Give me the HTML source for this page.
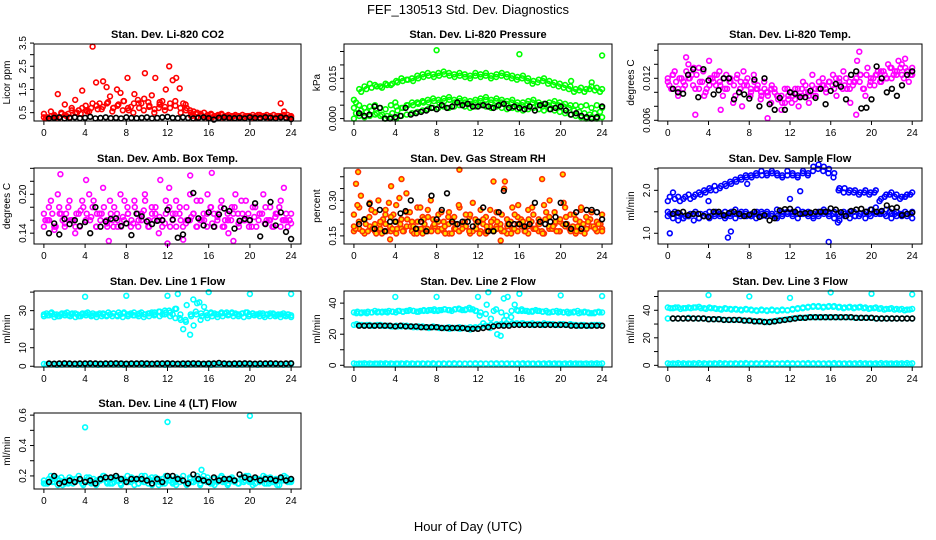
<!DOCTYPE html>
<html><head><meta charset="utf-8"><style>
html,body{margin:0;padding:0;background:#fff;}
svg{display:block;font-family:"Liberation Sans",Arial,sans-serif;}
</style></head><body>
<svg id="chart" width="936" height="540" viewBox="0 0 936 540" xmlns="http://www.w3.org/2000/svg">
<rect x="0" y="0" width="936" height="540" fill="#fff"/>
<text x="468" y="14" text-anchor="middle" font-size="13">FEF_130513  Std. Dev. Diagnostics</text>
<text x="468" y="531" text-anchor="middle" font-size="13">Hour of Day (UTC)</text>
<g id="panels"></g>
</svg>
<script>
const xTicks = [0,4,8,12,16,20,24];

const co2Red = [0.45,0.3,0.55,0.4,1.3,0.5,0.85,0.45,0.7,1.05,0.6,1.45,0.8,0.55,3.35,1.8,0.9,1.85,1.6,1.2,0.7,1.5,1.35,1.0,2.0,0.75,1.3,1.05,0.9,2.2,0.95,1.25,2.0,0.7,1.0,1.5,2.5,1.9,2.0,1.55,0.9,0.7,0.6,0.55,0.5,0.45,0.5,0.4,0.45,0.35,0.4,0.45,0.35,0.4,0.35,0.4,0.35,0.4,0.35,0.35,0.4,0.35,0.4,0.35,0.4,0.35,0.4,0.35,0.9,0.55,0.4,0.35];
const co2RedB = [0.3,0.25,0.35,0.3,0.4,0.3,0.5,0.45,0.6,0.7,0.8,0.65,0.9,0.55,0.8,0.6,0.7,0.5,0.9,0.6,0.75,0.5,0.85,0.6,0.7,0.8,0.5,0.6,0.35,0.3,0.35,0.3,0.3,0.35,0.3,0.3,0.35,0.3,0.3,0.35,0.3,0.3,0.35,0.3,0.3,0.35,0.3,0.3];
const co2RedC = [0.25,0.35,0.3,0.45,0.35,0.6,0.5,0.7,0.55,0.9,0.65,0.75,0.95,0.7,0.85,1.0,0.6,0.9,0.7,1.1,0.8,0.65,0.95,0.75,0.9,1.0,0.7,0.85,0.5,0.45,0.4,0.35,0.4,0.35,0.4,0.35,0.3,0.35,0.4,0.35,0.3,0.4,0.35,0.3,0.4,0.35,0.4,0.3];
const co2Blk = [0.25,0.28,0.3,0.25,0.27,0.3,0.26,0.28,0.32,0.25,0.27,0.3,0.26,0.28,0.25,0.3,0.27,0.26,0.28,0.3,0.25,0.27,0.3,0.32,0.28,0.26,0.3,0.27,0.25,0.28,0.3,0.26,0.2,0.28,0.3,0.27,0.26,0.28,0.25,0.3,0.27,0.26,0.3,0.28,0.25,0.3,0.27,0.22];

const presUp = [0.007,0.011,0.012,0.013,0.0125,0.012,0.013,0.0125,0.014,0.015,0.0145,0.015,0.016,0.0165,0.017,0.0165,0.017,0.0175,0.017,0.0165,0.017,0.0165,0.016,0.017,0.0165,0.017,0.016,0.0165,0.017,0.0165,0.016,0.0155,0.016,0.015,0.014,0.0145,0.015,0.014,0.0135,0.013,0.0125,0.012,0.011,0.0115,0.011,0.012,0.0115,0.011];
const presUp2 = [0.006,0.01,0.011,0.0115,0.012,0.0115,0.0125,0.013,0.0135,0.014,0.0145,0.014,0.015,0.0155,0.016,0.0155,0.016,0.0165,0.016,0.0155,0.016,0.0155,0.015,0.016,0.0155,0.016,0.015,0.0155,0.016,0.0155,0.015,0.0145,0.015,0.014,0.013,0.0135,0.014,0.013,0.0125,0.012,0.0115,0.011,0.01,0.0105,0.01,0.011,0.0105,0.01];
const presLo = [0.004,0.005,0.004,0.0045,0.005,0.004,0.0035,0.005,0.0045,0.004,0.005,0.006,0.006,0.0065,0.007,0.0075,0.007,0.0075,0.008,0.007,0.0075,0.007,0.0065,0.007,0.0075,0.008,0.007,0.0075,0.007,0.0065,0.007,0.006,0.006,0.0065,0.007,0.006,0.0055,0.006,0.0065,0.006,0.0055,0.005,0.005,0.0045,0.005,0.004,0.005,0.004];
const presLo2 = [0.002,0.003,0.0025,0.003,0.002,0.0015,0.001,0.002,0.003,0.004,0.005,0.005,0.0055,0.006,0.006,0.0065,0.006,0.0065,0.007,0.006,0.0065,0.006,0.0055,0.006,0.0065,0.007,0.006,0.0065,0.006,0.0055,0.006,0.005,0.005,0.0055,0.006,0.005,0.0045,0.005,0.0055,0.005,0.0045,0.004,0.003,0.0025,0.002,0.0015,0.002,0.0025];
const presBot = [0.0,0.001,0.0005,0.001,0.0015,0.001,0.0,0.0005,0.0,0.001,0.0015,0.002,0.0025,0.003,0.0035,0.004,0.004,0.0045,0.004,0.0045,0.005,0.0045,0.004,0.0045,0.005,0.0045,0.004,0.0045,0.004,0.0035,0.004,0.0035,0.003,0.0035,0.004,0.0035,0.003,0.0035,0.003,0.0025,0.002,0.0015,0.001,0.0005,0.0,0.0005,0.0,0.0005];
const presBlk = [0.002,0.001,0.0015,0.0045,0.004,0.0,0.0,0.0005,0.001,0.004,0.0015,0.002,0.0025,0.003,0.004,0.0035,0.005,0.004,0.0045,0.006,0.005,0.0055,0.0045,0.0045,0.005,0.0045,0.004,0.005,0.0055,0.004,0.0045,0.004,0.0035,0.0045,0.003,0.005,0.0055,0.0035,0.004,0.0045,0.003,0.0015,0.002,0.001,0.0005,0.0,0.0005,0.0045];
const presOutHours = [8,16,24,4,21,23];
const presOutVals = [0.0255,0.024,0.0235,0.006,0.014,0.0135];

const tempMag = [0.0115,0.0105,0.013,0.0095,0.012,0.011,0.014,0.0125,0.0105,0.0135,0.0115,0.01,0.0145,0.012,0.011,0.013,0.0095,0.0125,0.0115,0.0085,0.012,0.0105,0.013,0.011,0.0095,0.0125,0.0105,0.009,0.0115,0.01,0.0085,0.0105,0.0095,0.0075,0.0105,0.009,0.0085,0.0105,0.008,0.0095,0.011,0.0085,0.0125,0.0095,0.0105,0.012,0.01,0.0115,0.0125,0.0095,0.011,0.013,0.0105,0.0085,0.0115,0.0145,0.0125,0.0105,0.0135,0.012,0.011,0.013,0.0115,0.0125,0.014,0.012,0.013,0.0145,0.0125,0.0135,0.0115,0.0125];
const tempMag2 = [0.012,0.0125,0.0105,0.0115,0.012,0.0135,0.0105,0.0095,0.011,0.0125,0.0115,0.0105,0.012,0.0095,0.0105,0.0115,0.01,0.0105,0.0095,0.01,0.011,0.0095,0.0085,0.0105,0.0095,0.0105,0.0115,0.01,0.0095,0.0105,0.011,0.0115,0.0105,0.012,0.011,0.0105,0.0115,0.0125,0.0095,0.0115,0.0125,0.013,0.012,0.0135,0.0125,0.014,0.013,0.0135];
const tempMag3 = [0.011,0.0125,0.0115,0.012,0.0105,0.013,0.012,0.011,0.0125,0.0115,0.013,0.0105,0.012,0.0115,0.0125,0.011,0.012,0.0105,0.0115,0.011,0.0125,0.0115,0.011,0.012,0.0105,0.0115,0.011,0.01,0.0105,0.0095,0.0105,0.01,0.009,0.0095,0.0085,0.0095,0.01,0.009,0.0095,0.0105,0.01,0.0095,0.011,0.0105,0.0115,0.011,0.0105,0.0115,0.011,0.012,0.0115,0.0105,0.012,0.0115,0.011,0.012,0.0115,0.0105,0.0125,0.011,0.012,0.0125,0.0115,0.013,0.012,0.0135,0.0125,0.013,0.0135,0.012,0.013,0.0125];
const tempOutHours = [1.8,18.8,2.7,9.8,18.5,23.3,5.2,7.3];
const tempOutVals = [0.015,0.0158,0.0068,0.0063,0.0068,0.0148,0.0075,0.008];
const tempBlk = [0.0105,0.01,0.0098,0.0125,0.0133,0.0093,0.0133,0.0117,0.0097,0.0103,0.012,0.012,0.009,0.01,0.0097,0.0091,0.0118,0.008,0.012,0.0083,0.0075,0.0092,0.0075,0.01,0.0098,0.0093,0.0093,0.0102,0.0092,0.0105,0.0083,0.0102,0.0112,0.0108,0.009,0.0125,0.013,0.0077,0.0078,0.009,0.0137,0.012,0.01,0.0105,0.0095,0.011,0.0125,0.013];

const ambMag = [0.17,0.16,0.19,0.15,0.2,0.17,0.15,0.18,0.16,0.14,0.17,0.19,0.16,0.2,0.18,0.15,0.17,0.21,0.16,0.19,0.15,0.17,0.2,0.16,0.18,0.15,0.19,0.17,0.16,0.2,0.15,0.18,0.17,0.14,0.16,0.19,0.21,0.17,0.15,0.18,0.13,0.16,0.2,0.17,0.15,0.19,0.16,0.2,0.18,0.15,0.17,0.19,0.16,0.14,0.18,0.2,0.15,0.17,0.19,0.16,0.18,0.15,0.17,0.2,0.16,0.18,0.15,0.17,0.19,0.16,0.15,0.17];
const ambMag2 = [0.15,0.16,0.145,0.17,0.155,0.16,0.15,0.175,0.16,0.165,0.15,0.17,0.155,0.16,0.15,0.165,0.17,0.155,0.16,0.175,0.15,0.16,0.165,0.155,0.15,0.17,0.16,0.155,0.165,0.15,0.16,0.17,0.155,0.165,0.15,0.16,0.17,0.155,0.16,0.15,0.165,0.17,0.155,0.16,0.165,0.15,0.16,0.155];
const ambMag3 = [0.16,0.18,0.17,0.15,0.18,0.16,0.17,0.19,0.16,0.17,0.15,0.18,0.17,0.16,0.19,0.17,0.16,0.18,0.15,0.17,0.18,0.16,0.15,0.19,0.17,0.16,0.18,0.15,0.17,0.19,0.16,0.17,0.18,0.16,0.15,0.17,0.18,0.16,0.19,0.17,0.15,0.18,0.16,0.17,0.19,0.16,0.17,0.15,0.18,0.17,0.16,0.18,0.15,0.17,0.16,0.18,0.17,0.19,0.16,0.17,0.15,0.18,0.16,0.17,0.18,0.16,0.15,0.17,0.18,0.16,0.17,0.16];
const ambOutHours = [1.6,16.3,4.1,11.3,14.2,23.3,6.3,18.4,12];
const ambOutVals = [0.231,0.233,0.222,0.222,0.229,0.21,0.128,0.128,0.124];
const ambBlk = [0.14,0.155,0.138,0.162,0.154,0.16,0.151,0.157,0.14,0.18,0.15,0.158,0.162,0.163,0.151,0.155,0.137,0.17,0.166,0.158,0.154,0.159,0.16,0.176,0.161,0.133,0.138,0.16,0.202,0.163,0.152,0.172,0.15,0.169,0.178,0.174,0.147,0.159,0.162,0.16,0.186,0.135,0.154,0.188,0.152,0.172,0.142,0.131];

const rhCloud = [0.19,0.28,0.32,0.22,0.17,0.26,0.2,0.3,0.16,0.24,0.29,0.18,0.21,0.31,0.17,0.33,0.25,0.19,0.16,0.27,0.22,0.18,0.3,0.2,0.17,0.25,0.19,0.23,0.16,0.2,0.28,0.18,0.24,0.17,0.29,0.2,0.16,0.22,0.19,0.26,0.17,0.21,0.18,0.35,0.2,0.16,0.24,0.28,0.19,0.17,0.22,0.27,0.18,0.2,0.16,0.25,0.3,0.19,0.17,0.22,0.29,0.2,0.17,0.24,0.19,0.27,0.16,0.21,0.25,0.18,0.2,0.17];
const rhLow = [0.17,0.18,0.16,0.19,0.17,0.18,0.2,0.17,0.16,0.18,0.19,0.17,0.18,0.16,0.17,0.19,0.18,0.17,0.16,0.18,0.17,0.19,0.16,0.18,0.17,0.16,0.18,0.19,0.17,0.16,0.18,0.17,0.19,0.16,0.18,0.17,0.16,0.18,0.2,0.17,0.19,0.18,0.16,0.17,0.18,0.19,0.17,0.18];
const rhMid = [0.24,0.27,0.22,0.29,0.25,0.21,0.26,0.23,0.28,0.22,0.25,0.21,0.27,0.23,0.26,0.22,0.24,0.21,0.25,0.23,0.27,0.21,0.24,0.22,0.26,0.23,0.21,0.25,0.24,0.22,0.27,0.23,0.21,0.26,0.24,0.22,0.28,0.23,0.25,0.21,0.27,0.24,0.22,0.26,0.23,0.25,0.21,0.24];
const rhExtra = [0.18,0.21,0.17,0.2,0.23,0.18,0.16,0.2,0.22,0.17,0.19,0.24,0.18,0.2,0.17,0.22,0.19,0.16,0.21,0.18,0.2,0.23,0.17,0.19,0.21,0.18,0.16,0.2,0.22,0.18,0.17,0.2,0.19,0.23,0.17,0.18,0.21,0.2,0.17,0.19,0.22,0.18,0.2,0.17,0.19,0.21,0.18,0.2,0.22,0.17,0.19,0.21,0.18,0.2,0.17,0.22,0.19,0.18,0.21,0.17,0.2,0.23,0.18,0.19,0.17,0.21,0.2,0.18,0.22,0.19,0.17,0.2];
const rhOutHours = [0.4,10.2,4.6,13.5,18.2,20.2,14.6,0.2,3.6,14.2,3.5];
const rhOutVals = [0.42,0.43,0.39,0.38,0.39,0.41,0.38,0.37,0.36,0.13,0.135];
const rhBlk = [0.2,0.22,0.285,0.18,0.26,0.17,0.21,0.21,0.245,0.255,0.3,0.18,0.21,0.17,0.32,0.22,0.26,0.33,0.21,0.2,0.21,0.21,0.19,0.21,0.27,0.17,0.17,0.25,0.34,0.2,0.2,0.2,0.19,0.2,0.29,0.21,0.2,0.21,0.23,0.29,0.2,0.18,0.25,0.18,0.26,0.26,0.25,0.22];

const sfUp = [1.75,1.95,1.85,1.8,1.9,1.85,1.95,2.0,2.05,2.1,2.05,2.15,2.2,2.25,2.3,2.35,2.35,2.4,2.45,2.4,2.45,2.4,2.35,2.45,2.4,2.35,2.45,2.4,2.55,2.6,2.55,2.5,2.4,2.05,2.05,2.0,2.0,1.95,2.0,1.95,2.0,1.8,1.9,1.95,1.9,1.85,1.9,1.95];
const sfUp2 = [1.85,1.8,1.75,1.85,1.8,1.9,1.9,1.95,2.0,2.0,2.1,2.1,2.15,2.2,2.25,2.3,2.3,2.35,2.35,2.35,2.4,2.35,2.3,2.35,2.35,2.3,2.4,2.35,2.45,2.5,2.45,2.4,2.3,2.0,1.95,1.95,1.95,1.9,1.95,1.9,1.95,1.75,1.85,1.9,1.85,1.8,1.85,1.9];
const sfLo = [1.5,1.45,1.4,1.35,1.4,1.45,1.35,1.4,1.5,1.45,1.4,1.5,1.45,1.55,1.45,1.5,1.4,1.45,1.5,1.4,1.45,1.55,1.5,1.45,1.5,1.55,1.45,1.5,1.45,1.5,1.55,1.45,1.5,1.4,1.45,1.5,1.4,1.45,1.5,1.55,1.45,1.5,1.55,1.45,1.5,1.4,1.45,1.5];
const sfLo2 = [1.4,1.35,1.3,1.35,1.4,1.3,1.35,1.4,1.35,1.4,1.45,1.35,1.4,1.35,1.4,1.45,1.4,1.35,1.4,1.45,1.4,1.35,1.4,1.45,1.4,1.35,1.45,1.4,1.35,1.4,1.45,1.4,1.35,1.3,1.4,1.35,1.4,1.45,1.35,1.4,1.6,1.45,1.4,1.35,1.4,1.45,1.4,1.35];
const sfLo3 = [1.45,1.5,1.45,1.4,1.45,1.5,1.45,1.45,1.4,1.5,1.45,1.4,1.5,1.45,1.5,1.4,1.45,1.5,1.45,1.5,1.45,1.4,1.45,1.5,1.45,1.45,1.5,1.45,1.4,1.45,1.5,1.5,1.45,1.45,1.5,1.45,1.5,1.4,1.45,1.45,1.5,1.45,1.45,1.5,1.45,1.45,1.5,1.45];
const sfOutHours = [0.2,5.9,6.2,15.8,12,13,4,7.8,16.7];
const sfOutVals = [1.0,0.9,1.04,0.8,1.8,1.98,1.75,2.15,1.25];
const sfBlk = [1.45,1.48,1.5,1.42,1.45,1.45,1.4,1.38,1.5,1.5,1.42,1.47,1.5,1.45,1.4,1.43,1.5,1.38,1.42,1.3,1.35,1.53,1.56,1.57,1.5,1.45,1.47,1.48,1.5,1.5,1.5,1.58,1.55,1.49,1.4,1.52,1.55,1.57,1.5,1.55,1.5,1.52,1.65,1.58,1.6,1.42,1.45,1.48];

const l1Up = [28,27.5,28.5,28,27,28,28.5,27.5,28,28.5,27,28,28.5,28,27.5,28,28.5,28,27,28,28.5,27.5,28,29,28,28.5,27.5,28,29,28,28.5,29,28,29.5,28,29,30,28,31,26,20,33,17,22,34,25,32,26,29,28.5,28,29,28.5,28,29,28.5,28,28.5,29,28,28.5,28,28.5,27.5,28,28.5,28,27.5,28,27.5,28,27.5];
const l1Band = [27,27.5,26.5,27,27.5,27,26.5,27,27.5,27,26.5,27,27.5,27,27,26.5,27,27.5,27,26.5,27,27.5,27,28,27,26,25,24,27,28,27,27.5,27,26.5,27,27.5,27,27,26.5,27,27.5,27,26.5,27,27,26.5,27,26.5];
const l1Band2 = [28.5,29,28,28.5,29,28.5,28,28.5,29,28.5,28,28.5,29,28.5,29,28.5,28,29,28.5,28,28.5,29,29.5,30,29,31,28,25,28,29.5,28.5,29,28.5,28,28.5,29,28.5,28,28.5,29,28.5,28,28.5,28,28.5,28,28.5,28];
const l1Bot = [1.2,1.1,1.3,1.2,1.1,1.2,1.3,1.2,1.1,1.2,1.3,1.2,1.1,1.2,1.2,1.3,1.1,1.2,1.2,1.3,1.2,1.1,1.2,1.3,1.2,1.1,1.2,1.3,1.2,1.2,1.1,1.2,1.3,1.2,1.1,1.2,1.2,1.3,1.2,1.1,1.2,1.3,1.2,1.1,1.2,1.2,1.3,1.2];
const l1Bot2 = [0.9,1.0,0.8,0.9,1.0,0.9,0.8,0.9,1.0,0.9,0.8,0.9,1.0,0.9,0.9,0.8,1.0,0.9,0.9,0.8,0.9,1.0,0.9,0.8,0.9,1.0,0.9,0.8,0.9,0.9,1.0,0.9,0.8,0.9,1.0,0.9,0.9,0.8,0.9,1.0,0.9,0.8,0.9,1.0,0.9,0.9,0.8,0.9];
const l1OutHours = [4,8,12,13,16,20,24,14.5,15.1];
const l1OutVals = [37.5,38,38,39,40,39,39,36,34.5];
const l1Blk = [1.5,1.4,1.5,1.6,1.5,1.4,1.5,1.5,1.6,1.5,1.4,1.5,1.5,1.6,1.5,1.4,1.5,1.5,1.6,1.5,1.4,1.5,1.5,1.6,1.5,1.4,1.5,1.5,1.6,1.5,1.4,1.5,1.5,1.8,1.5,1.4,1.5,1.5,1.6,1.5,1.4,1.5,1.5,1.6,1.5,1.4,1.5,1.6];

const l2Up = [34,34.5,33.5,34,34.5,34,35,34.5,34,34.5,35,34.5,34,35,34.5,35,35.5,35,34.5,35,35.5,35,35.5,36,35,35.5,36,35.5,35,36,36.5,35.5,36,37,36,35,32,27,39,24,35,20,19,29,44,31,39,35,36,35,34.5,35,35.5,35,34.5,35,34,34.5,35,34.5,34,34.5,34,34.5,35,34,34.5,34,33.5,34,34.5,34];
const l2Up2 = [33.5,34,33.5,34,34,34.5,34,34.5,35,34.5,35,35,34.5,35,35.5,35,35.5,36,35.5,36,36,35.5,36,35,34,33,30,36,34,32,35,35.5,35,35,34.5,35,34.5,34,34.5,34,34,33.5,34,33.5,34,33.5,33.5,34];
const l2Mid = [26,26,25.5,26,25.5,26,25.5,25,25.5,25,25.5,25,24.5,25,24.5,25,24.5,24,24.5,24,24.5,24,24.5,24,25,25.5,26,26.5,26,26.5,27,26.5,27,26.5,26,26.5,27,26.5,26,26.5,26,26.5,26,26,25.5,26,26,25.5];
const l2Mid2 = [26.5,26,26,25.5,26,25.5,25.5,25,25,25.5,25,24.5,25,24.5,24,24.5,24,24,23.5,24,23.5,24,23,24.5,25,25.5,26,26,26.5,27,26.5,27,27,26.5,27,26.5,26,26.5,26.5,26,26.5,26,26,25.5,26,25.5,26,26];
const l2Bot = [1.2,1.1,1.3,1.2,1.1,1.2,1.3,1.2,1.1,1.2,1.3,1.2,1.1,1.2,1.2,1.3,1.1,1.2,1.2,1.3,1.2,1.1,1.2,1.3,1.2,1.1,1.2,1.3,1.2,1.2,1.1,1.2,1.3,1.2,1.1,1.2,1.2,1.3,1.2,1.1,1.2,1.3,1.2,1.1,1.2,1.2,1.3,1.2];
const l2Bot2 = [0.9,1.0,0.8,0.9,1.0,0.9,0.8,0.9,1.0,0.9,0.8,0.9,1.0,0.9,0.9,0.8,1.0,0.9,0.9,0.8,0.9,1.0,0.9,0.8,0.9,1.0,0.9,0.8,0.9,0.9,1.0,0.9,0.8,0.9,1.0,0.9,0.9,0.8,0.9,1.0,0.9,0.8,0.9,1.0,0.9,0.9,0.8,0.9];
const l2OutHours = [4,8,12,13,16,20,24,14.5];
const l2OutVals = [44,44,44,47,46,45,44.5,43];
const l2Blk = [25.5,25.5,25.5,25.5,25.5,25.5,25.5,25,25.5,25,25,25,24.5,24.5,24.5,24.5,24,24,24,24,24,23.5,23.5,23.5,24,24.5,25,25.5,25.5,25.5,26,26,26,26,26,26,26,26,26,26,26,25.5,25.5,25.5,25.5,25.5,25.5,25.5];

const l3Up = [42,41.5,42,41.5,42,42,42.5,41.5,42,41.5,41,41.5,41,41,40.5,41,40.5,40,40.5,40,40.5,40,40.5,40,41,41.5,42,42.5,43,43,42.5,43,43,42.5,42,42.5,42,42.5,42,41.5,42,41.5,41,41.5,41,41,40.5,41];
const l3Up2 = [41.5,42,41,41.5,41.5,42,41.5,41,41.5,41,40.5,41,40.5,40.5,40,40.5,40,39.5,40,39.5,40,39.5,40,40,40.5,41,41.5,42,42.5,42.5,42,42.5,42.5,42,41.5,42,41.5,42,41.5,41,41.5,41,40.5,41,40.5,40.5,40,40.5];
const l3Mid = [34,34,34,34,34.5,34,34,34,33.5,33.5,33.5,33,33,33,33,32.5,32.5,32,32,31.5,32,32.5,33,33.5,34,34.5,34.5,35,35,35,35,35,35,35,35,35,34.5,34.5,34.5,34.5,34,34,34,34,34,34,34,34];
const l3Bot = [1.5,1.4,1.6,1.5,1.4,1.5,1.6,1.5,1.4,1.5,1.6,1.5,1.4,1.5,1.5,1.6,1.4,1.5,1.5,1.6,1.5,1.4,1.5,1.6,1.5,1.4,1.5,1.6,1.5,1.5,1.4,1.5,1.6,1.5,1.4,1.5,1.5,1.6,1.5,1.4,1.5,1.6,1.5,1.4,1.5,1.5,1.6,1.5];
const l3Bot2 = [1.0,1.1,0.9,1.0,1.1,1.0,0.9,1.0,1.1,1.0,0.9,1.0,1.1,1.0,1.0,0.9,1.1,1.0,1.0,0.9,1.0,1.1,1.0,0.9,1.0,1.1,1.0,0.9,1.0,1.0,1.1,1.0,0.9,1.0,1.1,1.0,1.0,0.9,1.0,1.1,1.0,0.9,1.0,1.1,1.0,1.0,0.9,1.0];
const l3OutHours = [4,8,12,16,20,24];
const l3OutVals = [51,50,49,53,52,51.5];
const l3Blk = [34,34,34,34,34,34,34,33.5,33.5,33.5,33,33,33,33,32.5,32.5,32,32,31.5,31.5,32,32.5,33,33.5,34,34.5,34.5,35,35,35,35,35,35,35,35,35,34.5,34.5,34.5,34.5,34,34,34,34,34,34,34,34];

const l4Cyan = [0.17,0.15,0.2,0.16,0.14,0.19,0.17,0.15,0.18,0.16,0.2,0.15,0.17,0.19,0.16,0.14,0.18,0.2,0.16,0.15,0.19,0.17,0.15,0.18,0.2,0.16,0.14,0.18,0.17,0.2,0.15,0.19,0.16,0.14,0.18,0.2,0.17,0.15,0.19,0.16,0.2,0.14,0.18,0.16,0.2,0.15,0.17,0.19,0.16,0.14,0.18,0.2,0.16,0.15,0.19,0.17,0.15,0.18,0.2,0.16,0.14,0.18,0.17,0.2,0.15,0.19,0.16,0.14,0.18,0.2,0.16,0.17];
const l4Cyan2 = [0.15,0.16,0.18,0.17,0.15,0.16,0.18,0.17,0.16,0.15,0.17,0.18,0.16,0.15,0.17,0.18,0.16,0.17,0.15,0.16,0.18,0.17,0.16,0.15,0.17,0.16,0.18,0.15,0.16,0.17,0.18,0.16,0.15,0.17,0.16,0.18,0.17,0.15,0.16,0.17,0.18,0.16,0.15,0.17,0.16,0.18,0.17,0.16];
const l4Cyan3 = [0.15,0.18,0.16,0.19,0.17,0.14,0.16,0.19,0.15,0.18,0.17,0.14,0.19,0.16,0.18,0.15,0.17,0.2,0.15,0.18,0.16,0.19,0.14,0.17,0.16,0.19,0.18,0.15,0.2,0.16,0.17,0.14,0.19,0.18,0.15,0.17,0.19,0.16,0.14,0.18,0.17,0.15,0.19,0.16,0.18,0.14,0.2,0.17,0.15,0.18,0.16,0.19,0.17,0.14,0.18,0.16,0.15,0.19,0.17,0.2,0.16,0.15,0.18,0.17,0.19,0.15,0.16,0.18,0.14,0.17,0.19,0.16];
const l4OutHours = [4,12,20,15.3];
const l4OutVals = [0.52,0.555,0.595,0.24];
const l4Blk = [0.16,0.2,0.15,0.16,0.17,0.16,0.18,0.16,0.17,0.15,0.18,0.19,0.19,0.2,0.18,0.16,0.18,0.18,0.18,0.17,0.15,0.18,0.16,0.2,0.2,0.18,0.17,0.15,0.21,0.18,0.17,0.16,0.19,0.17,0.18,0.18,0.17,0.21,0.19,0.18,0.19,0.17,0.18,0.18,0.17,0.19,0.17,0.18];

const panels = [
 {name:'co2',title:'Stan. Dev. Li-820 CO2',ylab:'Licor ppm',L:34,R:301,T:44,B:121,y0:0.14,y1:3.46,ticks:[0.5,1,1.5,2,2.5,3,3.5],labels:['0.5','1.5','2.5','3.5'],
  series:[{v:co2RedB,c:'#ff0000',s:0,e:24},{v:co2RedC,c:'#ff0000',s:0.2,e:23.8},{v:co2Red,c:'#ff0000',s:0,e:24},{v:co2Blk,c:'#000',s:0.5,e:24}]},
 {name:'pressure',title:'Stan. Dev. Li-820 Pressure',ylab:'kPa',L:344,R:612,T:44,B:121,y0:-0.0009,y1:0.0278,ticks:[0,0.005,0.01,0.015,0.02,0.025],labels:['0.000','0.015'],
  series:[{v:presBot,c:'#00ff00',s:0,e:24},{v:presLo2,c:'#00ff00',s:0.2,e:23.8},{v:presLo,c:'#00ff00',s:0,e:24},{v:presUp2,c:'#00ff00',s:0.2,e:23.8},{v:presUp,c:'#00ff00',s:0,e:24},{h:presOutHours,v:presOutVals,c:'#00ff00'},{v:presBlk,c:'#000',s:0.5,e:24}]},
 {name:'temp',title:'Stan. Dev. Li-820 Temp.',ylab:'degrees C',L:658,R:922,T:44,B:121,y0:0.0059,y1:0.0169,ticks:[0.006,0.008,0.01,0.012,0.014,0.016],labels:['0.006','0.012'],
  series:[{v:tempMag2,c:'#ff00ff',s:0,e:24},{v:tempMag3,c:'#ff00ff',s:0.15,e:23.85},{v:tempMag,c:'#ff00ff',s:0,e:24},{h:tempOutHours,v:tempOutVals,c:'#ff00ff'},{v:tempBlk,c:'#000',s:0.5,e:24}]},
 {name:'amb-box-temp',title:'Stan. Dev. Amb. Box Temp.',ylab:'degrees C',L:34,R:301,T:168,B:244,y0:0.1233,y1:0.2405,ticks:[0.14,0.16,0.18,0.2,0.22,0.24],labels:['0.14','0.20'],
  series:[{v:ambMag2,c:'#ff00ff',s:0,e:24},{v:ambMag3,c:'#ff00ff',s:0.15,e:23.85},{v:ambMag,c:'#ff00ff',s:0,e:24},{h:ambOutHours,v:ambOutVals,c:'#ff00ff'},{v:ambBlk,c:'#000',s:0.5,e:24}]},
 {name:'gas-rh',title:'Stan. Dev. Gas Stream RH',ylab:'percent',L:344,R:612,T:168,B:244,y0:0.1157,y1:0.437,ticks:[0.15,0.2,0.25,0.3,0.35,0.4],labels:['0.15','0.30'],
  series:[{v:rhLow,c:'#ff3000',f:'#ffe000',s:0,e:24},{v:rhExtra,c:'#ff3000',f:'#ffe000',s:0.15,e:23.85},{v:rhMid,c:'#ff3000',f:'#ffe000',s:0,e:24},{v:rhCloud,c:'#ff3000',f:'#ffe000',s:0,e:24},{h:rhOutHours,v:rhOutVals,c:'#ff3000',f:'#ffe000'},{v:rhBlk,c:'#000',s:0.5,e:24}]},
 {name:'sample-flow',title:'Stan. Dev. Sample Flow',ylab:'ml/min',L:658,R:922,T:168,B:244,y0:0.75,y1:2.52,ticks:[1,1.5,2,2.5],labels:['1.0','2.0'],
  series:[{v:sfLo2,c:'#0000ff',s:0,e:24},{v:sfLo3,c:'#0000ff',s:0.2,e:23.8},{v:sfLo,c:'#0000ff',s:0,e:24},{v:sfUp2,c:'#0000ff',s:0.2,e:23.8},{v:sfUp,c:'#0000ff',s:0,e:24},{h:sfOutHours,v:sfOutVals,c:'#0000ff'},{v:sfBlk,c:'#000',s:0.5,e:24}]},
 {name:'line1-flow',title:'Stan. Dev. Line 1 Flow',ylab:'ml/min',L:34,R:301,T:291,B:367,y0:-0.4,y1:40.6,ticks:[0,10,20,30,40],labels:['0','10','30'],
  series:[{v:l1Bot,c:'#00ffff',s:0,e:24},{v:l1Bot2,c:'#00ffff',s:0.25,e:23.75},{v:l1Band,c:'#00ffff',s:0,e:24},{v:l1Band2,c:'#00ffff',s:0.25,e:23.75},{v:l1Up,c:'#00ffff',s:0,e:24},{h:l1OutHours,v:l1OutVals,c:'#00ffff'},{v:l1Blk,c:'#000',s:0.5,e:24}]},
 {name:'line2-flow',title:'Stan. Dev. Line 2 Flow',ylab:'ml/min',L:344,R:612,T:291,B:367,y0:-1.1,y1:47.8,ticks:[0,10,20,30,40],labels:['0','20','40'],
  series:[{v:l2Bot,c:'#00ffff',s:0,e:24},{v:l2Bot2,c:'#00ffff',s:0.25,e:23.75},{v:l2Mid,c:'#00ffff',s:0,e:24},{v:l2Mid2,c:'#00ffff',s:0.25,e:23.75},{v:l2Up2,c:'#00ffff',s:0.25,e:23.75},{v:l2Up,c:'#00ffff',s:0,e:24},{h:l2OutHours,v:l2OutVals,c:'#00ffff'},{v:l2Blk,c:'#000',s:0.5,e:24}]},
 {name:'line3-flow',title:'Stan. Dev. Line 3 Flow',ylab:'ml/min',L:658,R:922,T:291,B:367,y0:-1.2,y1:54,ticks:[0,10,20,30,40,50],labels:['0','20','40'],
  series:[{v:l3Bot,c:'#00ffff',s:0,e:24},{v:l3Bot2,c:'#00ffff',s:0.25,e:23.75},{v:l3Mid,c:'#00ffff',s:0,e:24},{v:l3Up2,c:'#00ffff',s:0.25,e:23.75},{v:l3Up,c:'#00ffff',s:0,e:24},{h:l3OutHours,v:l3OutVals,c:'#00ffff'},{v:l3Blk,c:'#000',s:0.5,e:24}]},
 {name:'line4-flow',title:'Stan. Dev. Line 4 (LT) Flow',ylab:'ml/min',L:34,R:301,T:413,B:489,y0:0.114,y1:0.614,ticks:[0.2,0.3,0.4,0.5,0.6],labels:['0.2','0.4','0.6'],
  series:[{v:l4Cyan2,c:'#00ffff',s:0,e:24},{v:l4Cyan3,c:'#00ffff',s:0.15,e:23.85},{v:l4Cyan,c:'#00ffff',s:0,e:24},{h:l4OutHours,v:l4OutVals,c:'#00ffff'},{v:l4Blk,c:'#000',s:0.5,e:24}]}
];

const NS='http://www.w3.org/2000/svg';
function mk(tag,attrs,parent){const e=document.createElementNS(NS,tag);for(const k in attrs)e.setAttribute(k,attrs[k]);parent.appendChild(e);return e;}
const root=document.getElementById('panels');
panels.forEach(p=>{
  const g=mk('g',{},root);
  
  
  const xs=h=>p.L+(h+0.96)/25.92*(p.R-p.L);
  const ys=v=>p.B-(v-p.y0)/(p.y1-p.y0)*(p.B-p.T);
  const t=mk('text',{x:(p.L+p.R)/2,y:p.T-6,'text-anchor':'middle','font-size':'11','font-weight':'bold'},g);
  t.textContent=p.title;
  
  
  const pts=mk('g',{fill:'none','stroke-width':'1.6'},g);
  
  
  p.series.forEach(s=>{
    s.v.forEach((v,i)=>{
      const h=s.h?s.h[i]:s.s+i*(s.e-s.s)/(s.v.length-1);
      const c=mk('circle',{cx:xs(h).toFixed(1),cy:ys(v).toFixed(1),r:'2.4',stroke:s.c,fill:s.f||'none'},pts);
      
      
    });
  });
  const box=mk('rect',{x:p.L,y:p.T,width:p.R-p.L,height:p.B-p.T,fill:'none',stroke:'#000','stroke-width':'1'},g);
  
  
  const xa=mk('g',{},g);
  
  
  xTicks.forEach(h=>{
    mk('line',{x1:xs(h),x2:xs(h),y1:p.B,y2:p.B+4,stroke:'#000'},xa);
    const l=mk('text',{x:xs(h),y:p.B+15,'text-anchor':'middle','font-size':'10'},xa);
    l.textContent=h;
  });
  mk('line',{x1:xs(0),x2:xs(24),y1:p.B,y2:p.B,stroke:'#000'},xa);
  const ya=mk('g',{},g);
  
  
  p.ticks.forEach(v=>{mk('line',{x1:p.L-4,x2:p.L,y1:ys(v),y2:ys(v),stroke:'#000'},ya);});
  p.labels.forEach(lb=>{
    const y=ys(parseFloat(lb)), x=p.L-8;
    const l=mk('text',{x:x,y:y,'text-anchor':'middle','font-size':'10',transform:`rotate(-90 ${x} ${y})`},ya);
    l.textContent=lb;
  });
  const yl=p.L-24, ym=(p.T+p.B)/2;
  const yt=mk('text',{x:yl,y:ym,'text-anchor':'middle','font-size':'10',transform:`rotate(-90 ${yl} ${ym})`},g);
  yt.textContent=p.ylab;
  
  
});
</script>
</body></html>
